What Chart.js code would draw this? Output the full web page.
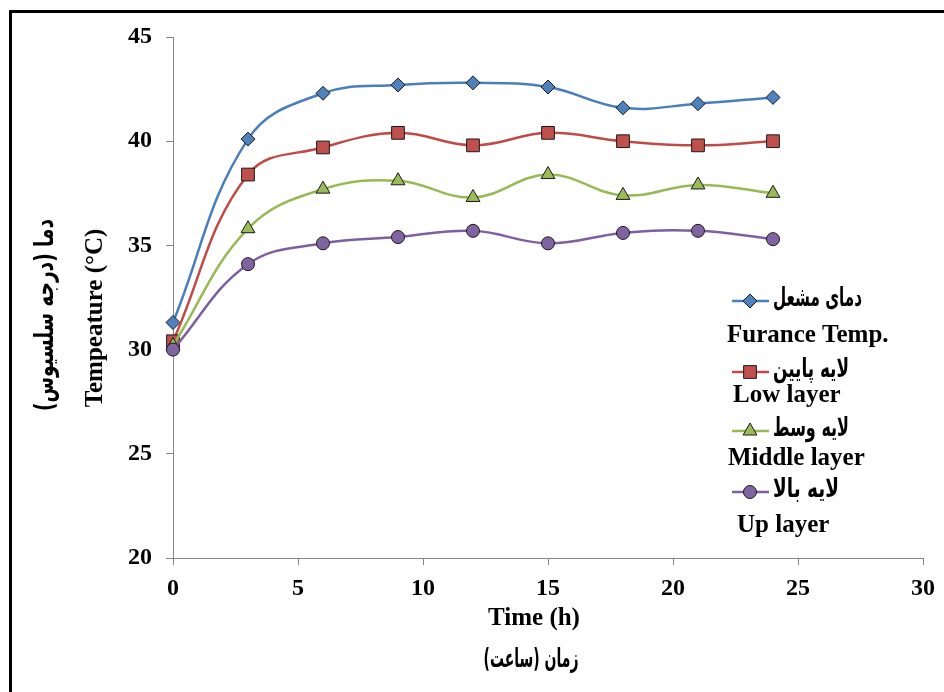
<!DOCTYPE html>
<html>
<head>
<meta charset="utf-8">
<script src="https://cdn.jsdelivr.net/npm/chart.js@4/dist/chart.umd.min.js"></script>
<style>
  html, body { margin: 0; padding: 0; background: #fff; }
  #wrap { position: relative; width: 944px; height: 692px; }
  #frame { position: absolute; left: 9px; top: 10px; width: 940px; height: 690px;
           border-left: 3px solid #000; border-top: 3px solid #000; }
  #chart { position: absolute; left: 0; top: 0; }
</style>
</head>
<body>
<div id="wrap">
  <div id="frame"></div>
  <canvas id="chart" width="944" height="692"></canvas>
</div>
<script>
// hours
const hours = [0, 3, 6, 9, 12, 15, 18, 21, 24];

// temperatures (°C)
const furnaceTemp = [31.3, 40.1, 42.3, 42.7, 42.8, 42.6, 41.6, 41.8, 42.1];
const lowLayer    = [30.4, 38.4, 39.7, 40.4, 39.8, 40.4, 40.0, 39.8, 40.0];
const middleLayer = [30.2, 35.8, 37.7, 38.1, 37.3, 38.4, 37.4, 37.9, 37.5];
const upLayer     = [30.0, 34.1, 35.1, 35.4, 35.7, 35.1, 35.6, 35.7, 35.3];

const labelsFa = ['دمای مشعل', 'لایه پایین', 'لایه وسط', 'لایه بالا'];
const labelsEn = ['Furance Temp.', 'Low layer', 'Middle layer', 'Up layer'];

const xTitleEn = 'Time (h)';
const xTitleFa = 'زمان (ساعت)';
const yTitleEn = 'Tempeature (°C)';
const yTitleFa = 'دما (درجه سلسیوس)';

const SERIF = '"Liberation Serif", "Times New Roman", "DejaVu Sans", serif';
const FA = '"DejaVu Sans", sans-serif';
const AXIS = '#868686';

function makeSeries(i, values, line, fill, style, radius, order) {
  return {
    label: labelsFa[i],
    labelEn: labelsEn[i],
    data: hours.map((h, k) => ({ x: h, y: values[k] })),
    borderColor: line,
    borderWidth: 2.5,
    backgroundColor: fill,
    pointStyle: style,
    pointRadius: radius,
    pointBackgroundColor: fill,
    pointBorderColor: '#1a1a1a',
    pointBorderWidth: 1,
    tension: 0.4,
    clip: false,
    order: order
  };
}

// legend layout: [y persian, y english, x english, width persian]
const legendRows = [[301, 336, 727, 89], [372, 396, 733, 76], [431, 459, 728, 76], [492, 526, 737, 66]];

// persian text is drawn condensed to a target width (DejaVu arabic is wide)
function faText(ctx, text, x, y, width, size) {
  ctx.save();
  ctx.direction = 'rtl';
  ctx.textAlign = 'center';
  ctx.font = 'bold ' + size + 'px ' + FA;
  const w = ctx.measureText(text).width;
  ctx.translate(x, y);
  ctx.scale(width / w, 1);
  ctx.fillText(text, 0, 0);
  ctx.restore();
}

const extraText = {
  id: 'extraText',
  afterDraw(chart) {
    const ctx = chart.ctx;
    ctx.save();
    ctx.fillStyle = '#000';
    ctx.textBaseline = 'middle';

    // x titles
    ctx.textAlign = 'center';
    ctx.font = 'bold 25px ' + SERIF;
    ctx.fillText(xTitleEn, 534, 619);
    faText(ctx, xTitleFa, 531, 660, 95, 26);

    // y titles
    ctx.save();
    ctx.translate(96, 318);
    ctx.rotate(-Math.PI / 2);
    ctx.font = 'bold 25px ' + SERIF;
    ctx.fillText(yTitleEn, 0, 0);
    ctx.restore();

    ctx.save();
    ctx.translate(46, 315);
    ctx.rotate(-Math.PI / 2);
    faText(ctx, yTitleFa, 0, 0, 192, 26);
    ctx.restore();

    // legend
    chart.data.datasets.forEach((ds, i) => {
      const [yFa, yEn, xEn, wFa] = legendRows[i];
      const x0 = 732;
      ctx.strokeStyle = ds.borderColor;
      ctx.lineWidth = 2.5;
      ctx.beginPath();
      ctx.moveTo(x0, yFa);
      ctx.lineTo(x0 + 37, yFa);
      ctx.stroke();
      ctx.fillStyle = ds.pointBackgroundColor;
      ctx.strokeStyle = ds.pointBorderColor;
      ctx.lineWidth = 1;
      Chart.helpers.drawPoint(ctx, { pointStyle: ds.pointStyle, radius: ds.pointRadius, rotation: 0, borderWidth: 1 }, x0 + 18, yFa);

      ctx.fillStyle = '#000';
      faText(ctx, ds.label, x0 + 41 + wFa / 2, yFa - 2, wFa, 26);

      ctx.textAlign = 'left';
      ctx.font = 'bold 25px ' + SERIF;
      ctx.fillText(ds.labelEn, xEn, yEn);
    });
    ctx.restore();
  }
};

document.addEventListener('DOMContentLoaded', () => {
  const ctx = document.getElementById('chart').getContext('2d');
  new Chart(ctx, {
    type: 'line',
    data: {
      datasets: [
        makeSeries(0, furnaceTemp, '#4a7ebb', '#4f81bd', 'rectRot', 7, 3),
        makeSeries(1, lowLayer, '#be4b48', '#c0504d', 'rect', 9, 2),
        makeSeries(2, middleLayer, '#98b954', '#9bbb59', 'triangle', 8, 1),
        makeSeries(3, upLayer, '#7d60a0', '#8064a2', 'circle', 6.5, 0)
      ]
    },
    options: {
      responsive: false,
      animation: false,
      layout: { padding: { top: 37, right: 17, left: 0, bottom: 0 } },
      plugins: {
        legend: { display: false },
        tooltip: { enabled: false }
      },
      scales: {
        x: {
          type: 'linear',
          min: 0,
          max: 30,
          afterFit: (s) => { s.height = 134; },
          ticks: {
            stepSize: 5,
            color: '#000',
            padding: 9,
            font: { family: SERIF, size: 24, weight: 'bold' }
          },
          grid: { drawOnChartArea: false, drawTicks: true, tickLength: 7, color: AXIS },
          border: { display: true, color: AXIS, width: 1 }
        },
        y: {
          min: 20,
          max: 45,
          afterFit: (s) => { s.width = 173; },
          ticks: {
            stepSize: 5,
            color: '#000',
            padding: 14,
            font: { family: SERIF, size: 24, weight: 'bold' }
          },
          grid: { drawOnChartArea: false, drawTicks: true, tickLength: 7, color: AXIS },
          border: { display: true, color: AXIS, width: 1 }
        }
      }
    },
    plugins: [extraText]
  });
});
</script>
</body>
</html>
